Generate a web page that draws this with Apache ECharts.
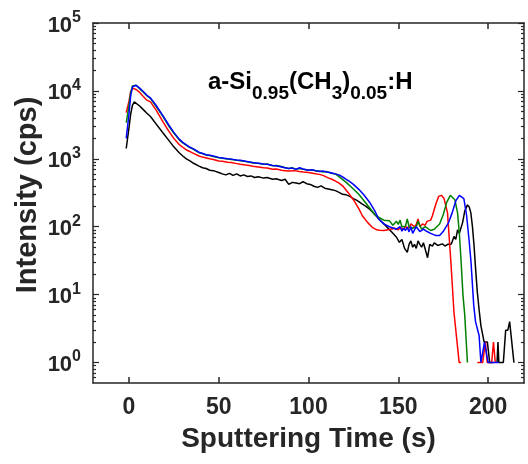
<!DOCTYPE html>
<html>
<head>
<meta charset="utf-8">
<script src="https://cdn.jsdelivr.net/npm/echarts@6/dist/echarts.min.js"></script>
<style>
html,body{margin:0;padding:0;background:#fff;}
#chart{width:528px;height:464px;}
</style>
</head>
<body>
<div id="chart"></div>
<script>
// Sputtering time (s) vs intensity (cps); '-' = zero count (not drawable on log scale)
const blackData = [[-1.5,1420],[0,2800],[1,4600],[2,6200],[3,6900],[4,6700],[6,6000],[8,5300],[10,4700],[12,4200],[15,3300],[19,2400],[22,1900],[25,1500],[28,1230],[30,1100],[32,1000],[34,930],[36,860],[39,780],[41,740],[43,720],[45,680],[47,670],[50,630],[52,600],[54,580],[56,610],[58,570],[60,600],[62,560],[64,580],[66,550],[68,560],[70,530],[72,545],[75,520],[77,530],[80,500],[82,510],[85,480],[87,500],[89,420],[91,450],[93,440],[95,430],[97,460],[99,430],[101,420],[103,395],[105,380],[107,400],[109,370],[111,360],[113,350],[115,340],[117,320],[119,300],[121,295],[123,280],[125,260],[127,245],[130,215],[132,200],[134,182],[137,150],[139.5,128],[142,110],[145,91],[147,80],[149,70],[150.6,59],[152,65],[153.5,48],[155,42],[156,55],[157,62],[158,50],[159,55],[160,48],[161,62],[162,55],[163,50],[164,58],[165,55],[166.3,35],[167.5,55],[169,52],[170,58],[172,53],[173,50],[174.5,56],[176,52],[177.5,55],[179.3,55],[180,60],[181,72],[182,65],[183,90],[184,80],[185.8,115],[187,170],[188.5,210],[189.5,195],[190.4,160],[191.3,100],[192.2,52],[193,25],[194,11],[195,6],[196,3.5],[197.8,2],[199.6,2],[200.9,1],[203,1],[204,'-'],[205,1],[205.5,2],[206,1],[208.5,1],[209.8,3],[211,3],[212,4],[214.4,1]];

const redData = [[-1.5,4800],[0,7000],[1,9800],[2,11000],[3,11000],[4,10500],[6,9500],[8,8300],[10,7300],[12,6900],[15,5300],[19,3500],[22,2600],[25,2000],[28,1620],[30,1480],[32,1350],[34,1280],[36,1200],[39,1100],[41,1060],[43,1030],[45,1000],[47,980],[50,930],[52,920],[55,890],[57,880],[60,850],[62,830],[65,810],[67,800],[69,780],[72,760],[75,740],[77,730],[80,700],[82,710],[85,680],[87,670],[89,660],[92,670],[95,650],[97,640],[100,630],[103,610],[106,590],[108,570],[111,525],[113,500],[115,470],[117,440],[119,400],[122,320],[125,250],[128,185],[130,145],[133,115],[135.5,98],[138,90],[139.5,89],[142,88],[145,91],[148,95],[150,90],[151,98],[153,92],[154,100],[156,96],[157,110],[159,100],[160,108],[161,130],[162,100],[163.5,110],[165,105],[166,120],[168,125],[169,145],[171,220],[172.5,280],[174,290],[175.5,260],[177.4,160],[179.3,30],[181,5.5],[183.9,1],[185,1],[186,'-'],[194,1],[197,1],[198.5,2],[199.5,1],[202,1],[203,2],[204,1],[205,'-']];

const greenData = [[-1.5,3400],[0,6000],[1,9500],[2,11800],[3,12500],[4,12100],[6,10800],[8,9600],[10,8500],[12,7700],[15,6000],[19,4200],[22,3100],[25,2400],[28,1900],[30,1720],[32,1580],[34,1460],[36,1380],[39,1230],[41,1200],[43,1140],[45,1120],[47,1080],[50,1040],[52,1020],[55,990],[57,980],[60,950],[62,940],[65,910],[67,900],[69,870],[72,860],[75,830],[77,840],[80,790],[82,800],[85,770],[87,740],[89,720],[91,740],[93,700],[95,720],[97,700],[100,680],[102,690],[104,660],[106,660],[108,640],[110,650],[112,620],[115,600],[118,520],[121,450],[125,360],[128,300],[131,240],[134,190],[137,150],[139,138],[142,125],[145,123],[147,105],[148,110],[149,120],[150,108],[151,125],[152,100],[154,102],[155,130],[156,100],[158,95],[160,100],[161,120],[163,92],[165,100],[166,95],[168,88],[170,92],[171,91],[173,110],[175,150],[177,230],[179,290],[180,300],[181.5,250],[183,160],[184,80],[185,30],[186,10],[187,5],[188.5,1]];

const blueData = [[-1.5,2000],[0,4500],[1,8500],[2,11500],[3,12300],[4,12100],[6,11000],[8,9800],[10,8600],[12,7900],[15,6200],[19,4300],[22,3200],[25,2450],[28,1950],[30,1750],[32,1600],[34,1480],[36,1400],[39,1250],[41,1200],[43,1150],[45,1130],[47,1100],[50,1050],[52,1030],[55,1000],[57,990],[60,960],[62,950],[65,920],[67,900],[69,880],[72,860],[75,840],[77,830],[80,800],[82,790],[85,760],[87,740],[89,720],[91,730],[93,700],[95,740],[97,710],[100,680],[102,690],[104,670],[106,650],[108,660],[110,640],[112,630],[114,610],[117,580],[119,540],[121,500],[123,460],[125,420],[128,355],[131,290],[134,230],[137,170],[139,130],[142,110],[145,100],[147,96],[149,92],[150,88],[151,100],[152,86],[153,95],[154,88],[155,98],[156,84],[157,100],[158,80],[160,100],[162,85],[164,92],[166,85],[168,80],[171,74],[173,74],[175,85],[178,115],[180,160],[182,240],[184,290],[185,300],[186.5,260],[188,150],[189.5,60],[190.5,30],[192,7],[193,4],[195,2.5],[196,1],[197,1],[198,2],[199,2],[200,1],[203,1],[206,1]];

const xTicks = [0, 50, 100, 150, 200];
const yMajor = [1, 10, 100, 1000, 10000, 100000];
const yMinor = [0.6,0.7,0.8,0.9,2,3,4,5,6,7,8,9,20,30,40,50,60,70,80,90,200,300,400,500,600,700,800,900,2000,3000,4000,5000,6000,7000,8000,9000,20000,30000,40000,50000,60000,70000,80000,90000];

const AX = '#262626';
const FONT = '"Liberation Sans", Arial, sans-serif';

const chart = echarts.init(document.getElementById('chart'));

function xAx(pos, labels) {
  return {
    type: 'value', position: pos, min: -20, max: 220,
    splitLine: {show: false},
    axisLine: {show: true, onZero: false, lineStyle: {color: AX, width: 1.5}},
    axisTick: {show: true, inside: true, length: 6, customValues: xTicks, lineStyle: {color: AX, width: 1.5}},
    axisLabel: labels ? {show: true, customValues: xTicks, margin: 13, fontSize: 23, fontWeight: 'bold', color: AX, fontFamily: FONT} : {show: false},
    name: labels ? 'Sputtering Time (s)' : '',
    nameLocation: 'middle', nameGap: 42,
    nameTextStyle: {fontSize: 28, fontWeight: 'bold', color: AX, fontFamily: FONT}
  };
}
function yAx(pos, vals, len, labels, line) {
  return {
    type: 'log', logBase: 10, position: pos, min: 0.5, max: 100000,
    splitLine: {show: false},
    axisLine: {show: line, onZero: false, lineStyle: {color: AX, width: 1.5}},
    axisTick: {show: true, inside: true, length: len, customValues: vals, lineStyle: {color: AX, width: 1.2}},
    axisLabel: labels ? {
      show: true, customValues: yMajor, margin: 12, color: AX, fontFamily: FONT,
      formatter: function (v) { return '{b|10}{s|' + Math.round(Math.log10(v)) + '}'; },
      rich: {
        b: {fontSize: 22, fontWeight: 'bold', color: AX, fontFamily: FONT, lineHeight: 22, padding: [5, 0, 0, 0]},
        s: {fontSize: 16, fontWeight: 'bold', color: AX, fontFamily: FONT, lineHeight: 16, padding: [0, 0, 11, 0]}
      }
    } : {show: false}
  };
}

function ser(name, data, color, z) {
  return {
    name: name, type: 'line', data: data, xAxisIndex: 0, yAxisIndex: 0,
    showSymbol: false, symbol: 'none', connectNulls: false, z: z,
    lineStyle: {color: color, width: 1.5}, animation: false
  };
}

chart.setOption({
  animation: false,
  backgroundColor: '#fff',
  textStyle: {fontFamily: FONT},
  grid: {left: 93, right: 4, top: 23, bottom: 81, containLabel: false, outerBoundsMode: 'none'},
  xAxis: [xAx('bottom', true), xAx('top', false)],
  yAxis: [
    yAx('left', yMajor, 6, true, true),
    yAx('left', yMinor, 3, false, false),
    yAx('right', yMajor, 6, false, true),
    yAx('right', yMinor, 3, false, false)
  ],
  graphic: [{
    type: 'text', left: 208, top: 62,
    style: {
      text: 'a-Si{sub|0.95}(CH{sub|3}){sub|0.05}:H',
      font: 'bold 24px ' + FONT,
      fill: '#000',
      rich: {
        sub: {fontSize: 19, fontWeight: 'bold', fontFamily: FONT, lineHeight: 19, padding: [22, 0, 0, 0], fill: '#000'}
      }
    },
    z: 100
  }, {
    type: 'text', x: 28, y: 195, rotation: Math.PI / 2,
    style: {
      text: 'Intensity (cps)', x: 0, y: 0, align: 'center', verticalAlign: 'middle',
      font: 'bold 29px ' + FONT, fill: AX
    },
    z: 100
  }],
  series: [
    ser('black', blackData, '#000000', 2),
    ser('red', redData, '#ff0000', 3),
    ser('green', greenData, '#008000', 4),
    ser('blue', blueData, '#0000ff', 5)
  ]
});
</script>
</body>
</html>
